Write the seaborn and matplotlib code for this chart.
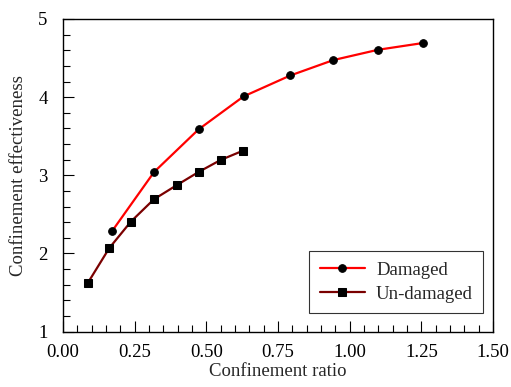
import matplotlib
matplotlib.use("Agg")
import matplotlib.pyplot as plt
import seaborn as sns
import pandas as pd
from matplotlib.ticker import MultipleLocator, FormatStrFormatter

damaged_x = [0.172, 0.318, 0.473, 0.630, 0.793, 0.943, 1.099, 1.255]
damaged_y = [2.288, 3.042, 3.587, 4.009, 4.277, 4.474, 4.606, 4.692]
undamaged_x = [0.087, 0.162, 0.237, 0.317, 0.398, 0.473, 0.550, 0.628]
undamaged_y = [1.623, 2.070, 2.407, 2.692, 2.876, 3.042, 3.196, 3.315]
series_names = ["Damaged", "Un-damaged"]

df = pd.concat([
    pd.DataFrame({"x": damaged_x, "y": damaged_y, "s": series_names[0]}),
    pd.DataFrame({"x": undamaged_x, "y": undamaged_y, "s": series_names[1]}),
])

sns.set_style("ticks")
plt.rcParams["font.family"] = ["Liberation Serif", "DejaVu Serif"]
plt.rcParams["font.size"] = 13.5

fig = plt.figure(figsize=(5.11, 3.87), dpi=100)
ax = fig.add_axes([0.123, 0.143, 0.842, 0.808])

sns.lineplot(data=df, x="x", y="y", hue="s", style="s",
             palette={"Damaged": "#ff0000", "Un-damaged": "#7a0000"},
             markers={"Damaged": "o", "Un-damaged": "s"},
             dashes=False, markeredgecolor="black", markerfacecolor="black",
             markersize=5.5, linewidth=1.6, sort=False, ax=ax)

ax.set_xlim(0, 1.5)
ax.set_ylim(1, 5)
ax.xaxis.set_major_locator(MultipleLocator(0.25))
ax.xaxis.set_minor_locator(MultipleLocator(0.05))
ax.yaxis.set_major_locator(MultipleLocator(1))
ax.yaxis.set_minor_locator(MultipleLocator(0.2))
ax.xaxis.set_major_formatter(FormatStrFormatter("%.2f"))
ax.tick_params(which="major", direction="in", length=8, width=0.8, labelsize=13.5,
               color="black", labelcolor="black")
ax.tick_params(axis="x", which="major", pad=9)
ax.tick_params(axis="y", which="major", pad=11)
ax.tick_params(which="minor", direction="in", length=5, width=0.8, color="black")
ax.tick_params(top=False, right=False, which="both")
for sp in ax.spines.values():
    sp.set_visible(True)
    sp.set_color("black")
    sp.set_linewidth(1.0)

ax.set_xlabel("Confinement ratio", fontsize=13.5, labelpad=1)
ax.set_ylabel("Confinement effectiveness", fontsize=13.5, labelpad=8)

leg = ax.legend(loc="lower right", bbox_to_anchor=(0.977, 0.06), borderaxespad=0,
                frameon=True, fancybox=False, edgecolor="black", fontsize=13.5,
                handlelength=2.4, handletextpad=0.6, borderpad=0.55, labelspacing=0.35)
leg.get_frame().set_linewidth(0.8)
leg.set_title(None)
for h in leg.legend_handles:
    h.set_markerfacecolor("black")
    h.set_markeredgecolor("black")

fig.savefig("out.png", dpi=100)
